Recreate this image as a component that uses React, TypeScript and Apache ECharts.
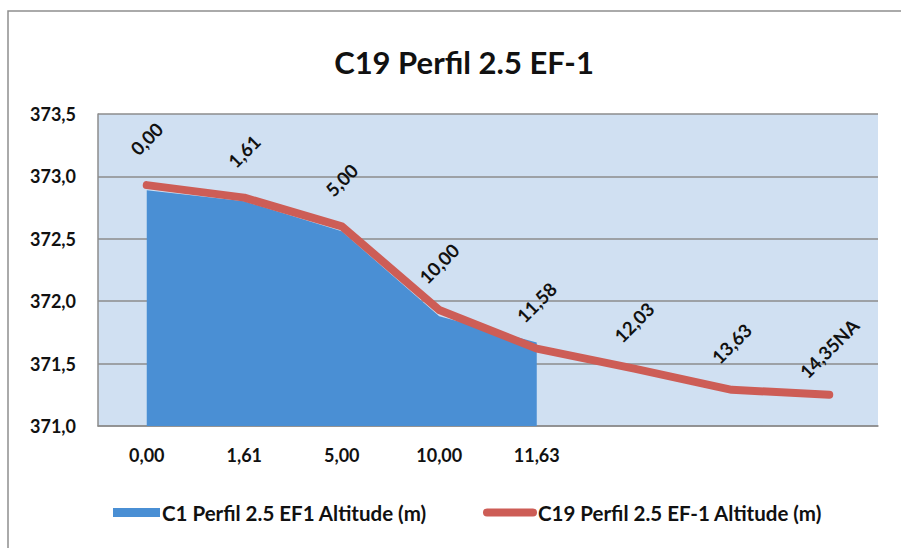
import React, { useEffect, useRef } from "react";
import * as echarts from "echarts";

const categories = ["0,00", "1,61", "5,00", "10,00", "11,63", "", "", ""];
const areaValues = [372.89, 372.8, 372.56, 371.88, 371.67];
const lineValues = [372.93, 372.83, 372.6, 371.93, 371.62, 371.46, 371.29, 371.25];
const lineLabels = ["0,00", "1,61", "5,00", "10,00", "11,58", "12,03", "13,63", "14,35NA"];
const areaName = "C1 Perfil 2.5 EF1 Altitude (m)";
const lineName = "C19 Perfil 2.5 EF-1 Altitude (m)";
const titleText = "C19 Perfil 2.5 EF-1";

const FONT = "Lato, 'Open Sans', sans-serif";
const RED = "#cd5d56";
const BLUE = "#4a8fd4";

export default function App() {
  const ref = useRef<HTMLDivElement>(null);
  useEffect(() => {
    if (!ref.current) return;
    document.documentElement.style.overflow = "hidden";
    document.body.style.overflow = "hidden";
    const chart = echarts.init(ref.current, undefined, { renderer: "svg" });
    chart.setOption({
      animation: false,
      backgroundColor: "#ffffff",
      textStyle: { fontFamily: FONT },
      graphic: [
        {
          type: "polyline",
          shape: { points: [[8, 560], [8, 11], [910, 11]] },
          style: { fill: "none", stroke: "#8e8e8e", lineWidth: 1.5 },
          silent: true,
          z: -10,
        },
      ],
      title: {
        text: titleText,
        left: 459,
        top: 41,
        textAlign: "center",
        textStyle: { fontFamily: FONT, fontWeight: "bold", fontSize: 31, color: "#111" },
      },
      legend: [
        {
          data: [{ name: areaName, icon: "rect", itemStyle: { color: BLUE } }],
          left: 108,
          top: 497,
          itemWidth: 47,
          itemHeight: 9,
          itemGap: 0,
          textStyle: { fontFamily: FONT, fontWeight: "bold", fontSize: 20.5, color: "#111", padding: [0, 0, 0, -3] },
        },
        {
          data: [
            {
              name: lineName,
              icon: "path://M4,0 H50 A4,4 0 0 1 50,8 H4 A4,4 0 0 1 4,0 Z",
              itemStyle: { color: RED, opacity: 1 },
            },
          ],
          left: 478,
          top: 497,
          itemWidth: 54,
          itemHeight: 9,
          itemGap: 0,
          textStyle: { fontFamily: FONT, fontWeight: "bold", fontSize: 20.5, color: "#111", padding: [0, 0, 0, -4] },
        },
      ],
      grid: { left: 98, top: 114, right: 23, bottom: 122, show: true, backgroundColor: "#d0e0f2", borderWidth: 0 },
      xAxis: {
        type: "category",
        data: categories,
        boundaryGap: true,
        axisTick: { show: false },
        axisLine: { show: true, lineStyle: { color: "#8d8d8d", width: 1.5 } },
        axisLabel: { margin: 20, fontFamily: FONT, fontWeight: "bold", fontSize: 18, color: "#111", interval: 0 },
      },
      yAxis: {
        type: "value",
        min: 371,
        max: 373.5,
        interval: 0.5,
        axisLine: { show: true, lineStyle: { color: "#8d8d8d", width: 1.5 } },
        axisTick: { show: false },
        splitLine: { show: true, lineStyle: { color: "#8d8d8d", width: 1.5 } },
        axisLabel: {
          margin: 22,
          fontFamily: FONT,
          fontWeight: "bold",
          fontSize: 18,
          color: "#111",
          formatter: (v: number) => v.toFixed(1).replace(".", ","),
        },
      },
      series: [
        {
          name: areaName,
          type: "line",
          data: areaValues,
          symbol: "none",
          lineStyle: { width: 0, color: BLUE },
          itemStyle: { color: BLUE },
          areaStyle: { color: BLUE, opacity: 1, origin: "start" },
          z: 2,
        },
        {
          name: lineName,
          type: "line",
          data: lineValues,
          symbol: "circle",
          symbolSize: 0.5,
          showSymbol: true,
          itemStyle: { color: RED },
          lineStyle: { width: 8, color: RED, cap: "round", join: "round" },
          label: {
            show: true,
            position: "top",
            distance: 46,
            rotate: 45,
            align: "center",
            verticalAlign: "middle",
            fontFamily: FONT,
            fontWeight: "bold",
            fontSize: 18.5,
            color: "#111",
            formatter: (p: any) => lineLabels[p.dataIndex],
          },
          z: 3,
        },
      ],
    });
    return () => chart.dispose();
  }, []);
  return (
    <div
      ref={ref}
      style={{ position: "fixed", left: 0, top: 0, width: 901, height: 548 }}
    />
  );
}
